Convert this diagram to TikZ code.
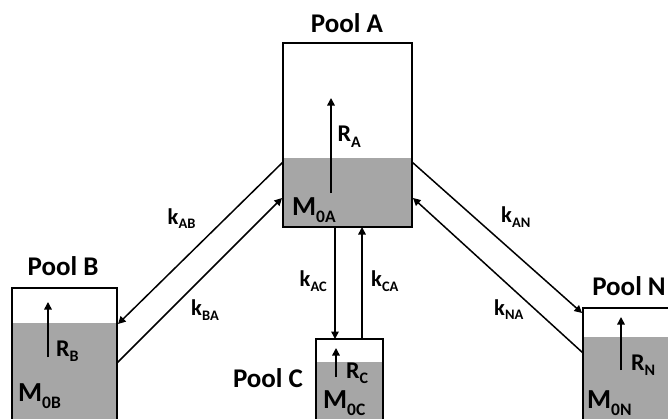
\documentclass[tikz,border=0pt]{standalone}
\usepackage{fontspec}
\setmainfont{Carlito}
\usetikzlibrary{arrows.meta}
\definecolor{poolgray}{HTML}{A6A6A6}
\newcommand{\ttl}[1]{{\fontsize{27}{27}\selectfont\bfseries #1}}
\newcommand{\mlab}[2]{{\fontsize{27.5}{27.5}\selectfont\bfseries M\raisebox{-7pt}{\fontsize{17.5}{17.5}\selectfont #2}}}
\newcommand{\rlab}[1]{{\fontsize{24}{24}\selectfont\bfseries R\raisebox{-5.5pt}{\fontsize{16}{16}\selectfont #1}}}
\newcommand{\klab}[1]{{\fontsize{22.5}{22.5}\selectfont\bfseries k\raisebox{-4.5pt}{\fontsize{14.5}{14.5}\selectfont #1}}}
\begin{document}
\begin{tikzpicture}[x=1pt,y=-1pt,
  pool/.style={draw, line width=1.9pt, inner sep=0pt,
    path picture={\fill[poolgray] ([yshift=-#1]path picture bounding box.north west) rectangle (path picture bounding box.south east);}},
  lbl/.style={inner sep=0pt, anchor=base west},
  ttlnode/.style={inner sep=0pt, anchor=base},
  arr/.style={line width=1.5pt, -{Triangle[length=7.5pt,width=7.5pt]}}]
\useasboundingbox (0,0) rectangle (668,418);
\clip (0,0) rectangle (668,418);
% boxes
\node[pool=115pt, minimum width=129pt, minimum height=184pt] (A) at (347.5,135) {};
\node[pool=35pt, minimum width=105pt, minimum height=172pt] (B) at (64.5,374) {};
\node[pool=23pt, minimum width=67pt, minimum height=121pt] (C) at (349.5,399.5) {};
\node[pool=29pt, minimum width=127pt, minimum height=152pt] (N) at (646.5,384) {};
% titles
\node[ttlnode] (tA) at (347,32) {\ttl{Pool A}};
\node[ttlnode] (tB) at (63,275) {\ttl{Pool B}};
\node[ttlnode] (tC) at (268,387) {\ttl{Pool C}};
\node[ttlnode] (tN) at (629,295) {\ttl{Pool N}};
% M labels
\node[lbl] (mA) at (292,215) {\mlab{}{0A}};
\node[lbl] (mB) at (18,401.5) {\mlab{}{0B}};
\node[lbl] (mC) at (323,408) {\mlab{}{0C}};
\node[lbl] (mN) at (587,408) {\mlab{}{0N}};
% R labels
\node[lbl] (rA) at (337.5,141.5) {\rlab{A}};
\node[lbl] (rB) at (56,356) {\rlab{B}};
\node[lbl] (rC) at (346,378) {\rlab{C}};
\node[lbl] (rN) at (631,370) {\rlab{N}};
% k labels
\node[lbl] (kAB) at (167.5,224) {\klab{AB}};
\node[lbl] (kBA) at (191,315.5) {\klab{BA}};
\node[lbl] (kAN) at (501,222.5) {\klab{AN}};
\node[lbl] (kNA) at (494,315) {\klab{NA}};
\node[lbl] (kAC) at (299.5,286.5) {\klab{AC}};
\node[lbl] (kCA) at (371,286.5) {\klab{CA}};
% connector end points
\coordinate (a1) at (283,162); \coordinate (b1) at (118,324);
\coordinate (b2) at (117,363); \coordinate (a2) at (282,198);
\coordinate (a3) at (412,162); \coordinate (n1) at (582,313);
\coordinate (n2) at (583,353); \coordinate (a4) at (413,198);
\coordinate (a5) at (335,227); \coordinate (c1) at (335,339);
\coordinate (c2) at (362,339); \coordinate (a6) at (362,227);
\coordinate (rA0) at (331,193); \coordinate (rA1) at (331,98);
\coordinate (rB0) at (48,357); \coordinate (rB1) at (48,302);
\coordinate (rC0) at (336,377); \coordinate (rC1) at (336,348);
\coordinate (rN0) at (621,370); \coordinate (rN1) at (621,317);
% connectors
\draw[arr] (a1) -- (b1);
\draw[arr] (b2) -- (a2);
\draw[arr] (a3) -- (n1);
\draw[arr] (n2) -- (a4);
\draw[arr] (a5) -- (c1);
\draw[arr] (c2) -- (a6);
\draw[arr] (rA0) -- (rA1);
\draw[arr] (rB0) -- (rB1);
\draw[arr] (rC0) -- (rC1);
\draw[arr] (rN0) -- (rN1);
\end{tikzpicture}
\end{document}
